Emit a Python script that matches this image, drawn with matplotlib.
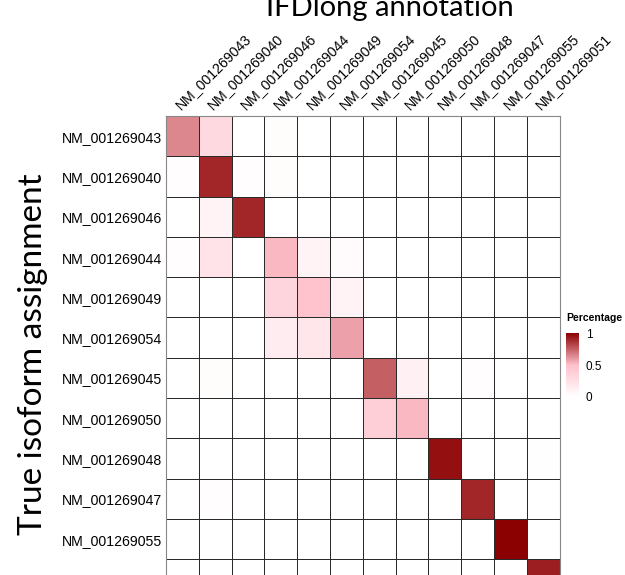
import numpy as np
import matplotlib
matplotlib.use("Agg")
import matplotlib.pyplot as plt
from matplotlib.colors import LinearSegmentedColormap

isoforms = ["NM_001269043", "NM_001269040", "NM_001269046", "NM_001269044",
            "NM_001269049", "NM_001269054", "NM_001269045", "NM_001269050",
            "NM_001269048", "NM_001269047", "NM_001269055", "NM_001269051"]

# rows = true isoform, cols = IFDlong annotation
pct = [
    [0.65, 0.30, 0.00, 0.03, 0.00, 0.00, 0.00, 0.00, 0.00, 0.00, 0.00, 0.00],
    [0.02, 0.90, 0.02, 0.03, 0.00, 0.00, 0.00, 0.00, 0.00, 0.00, 0.00, 0.00],
    [0.00, 0.10, 0.90, 0.00, 0.00, 0.00, 0.00, 0.00, 0.00, 0.00, 0.00, 0.00],
    [0.02, 0.22, 0.00, 0.52, 0.10, 0.04, 0.00, 0.00, 0.00, 0.00, 0.00, 0.00],
    [0.00, 0.00, 0.00, 0.33, 0.48, 0.10, 0.00, 0.00, 0.00, 0.00, 0.00, 0.00],
    [0.00, 0.00, 0.00, 0.15, 0.20, 0.58, 0.00, 0.00, 0.00, 0.00, 0.00, 0.00],
    [0.00, 0.03, 0.00, 0.00, 0.00, 0.00, 0.75, 0.12, 0.00, 0.02, 0.00, 0.00],
    [0.00, 0.00, 0.00, 0.00, 0.00, 0.00, 0.38, 0.52, 0.00, 0.00, 0.00, 0.00],
    [0.00, 0.00, 0.00, 0.00, 0.00, 0.00, 0.00, 0.00, 0.96, 0.00, 0.00, 0.01],
    [0.00, 0.02, 0.00, 0.00, 0.00, 0.00, 0.00, 0.00, 0.00, 0.90, 0.00, 0.00],
    [0.00, 0.00, 0.00, 0.00, 0.00, 0.00, 0.00, 0.00, 0.00, 0.00, 1.00, 0.00],
    [0.00, 0.00, 0.00, 0.00, 0.00, 0.00, 0.00, 0.00, 0.01, 0.00, 0.00, 0.92],
]

cmap = LinearSegmentedColormap.from_list("wpr", ["white", "pink", "darkred"])

fig = plt.figure(figsize=(6.25, 5.75), dpi=100)
W, H = 625, 575
# grid: left 166px, top 116px, cell 32.8 x 40.3 px (last row runs past the bottom)
left, top, cw, ch = 166, 116, 32.8, 40.3
n = len(isoforms)
ax = fig.add_axes([left / W, 1 - (top + n * ch) / H, n * cw / W, n * ch / H])

data = np.array(pct)
mesh = ax.pcolormesh(data, cmap=cmap, vmin=0, vmax=1,
                     edgecolors="#2a2a2a", linewidth=0.55)
ax.set_xlim(0, n)
ax.set_ylim(n, 0)
for s in ax.spines.values():
    s.set_color("#888888")
    s.set_linewidth(0.8)

lab_font = {"family": ["Liberation Sans", "DejaVu Sans"], "size": 10.2}
ax.set_yticks(np.arange(n) + 0.5)
ax.set_yticklabels(isoforms, **lab_font)
ax.tick_params(axis="y", length=0, pad=3)
ax.set_xticks([])
for j, name in enumerate(isoforms):
    ax.text(j + 0.5, -0.1, name, rotation=45, ha="left", va="bottom",
            rotation_mode="anchor", **lab_font)

fig.text(390 / W, 1 - 16 / H, "IFDlong annotation", ha="center", va="baseline",
         fontsize=21, family=["Lato", "DejaVu Sans"])
fig.text(33 / W, 1 - 354 / H, "True isoform assignment", ha="center", va="center",
         rotation=90, fontsize=24, family=["Lato", "DejaVu Sans"])

# colour bar
cax = fig.add_axes([566 / W, 1 - 400 / H, 13 / W, 70 / H])
cb = fig.colorbar(mesh, cax=cax, ticks=[0, 0.5, 1])
cb.outline.set_visible(False)
cb.ax.set_yticklabels(["0", "0.5", "1"], family=["Liberation Sans", "DejaVu Sans"],
                      fontsize=8.5)
cb.ax.tick_params(length=3, color="white", width=0.8, pad=2)
cb.ax.set_ylim(-0.05, 1.05)
fig.text(566 / W, 1 - 321 / H, "Percentage", ha="left", va="baseline",
         fontsize=7.5, fontweight="bold", family=["Liberation Sans", "DejaVu Sans"])

fig.savefig("out.png", dpi=100)
